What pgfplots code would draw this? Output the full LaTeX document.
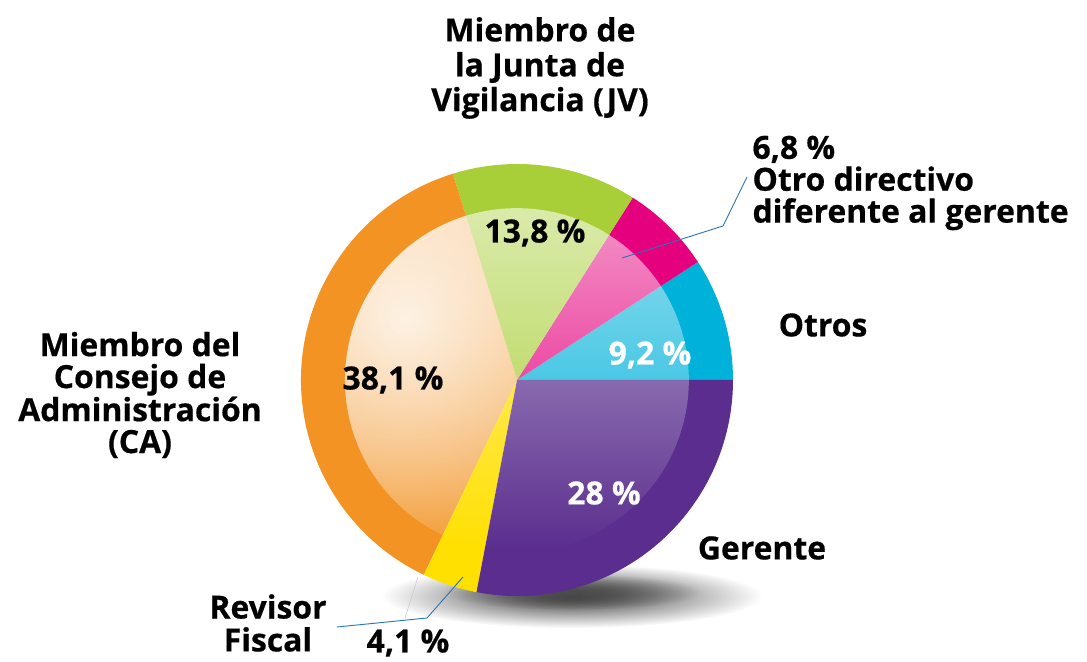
\documentclass[border=0pt]{standalone}
\usepackage{pgfplots}
\pgfplotsset{compat=1.18}
\usepackage{pgfplotstable}
\usetikzlibrary{fadings}
\usepackage{fontspec}
\setmainfont{Open Sans}[BoldFeatures={FakeBold=0.5}]

\definecolor{cyanO}{HTML}{00B2DA}
\definecolor{magO}{HTML}{E5007E}
\definecolor{grnO}{HTML}{A9CF38}
\definecolor{orgO}{HTML}{F39323}
\definecolor{yelO}{HTML}{FFE000}
\definecolor{purO}{HTML}{5A2D8E}
\definecolor{leader}{HTML}{2A74B8}

\tikzfading[name=vfade, top color=transparent!42, bottom color=transparent!100]
\tikzfading[name=radfade, inner color=transparent!0, outer color=transparent!100]

% share of each group, counter-clockwise from 0 degrees
\pgfplotstableread{
value colour
9.2   cyanO
6.8   magO
13.8  grnO
38.1  orgO
4.1   yelO
28.0  purO
}\piedata

\begin{document}
\begin{tikzpicture}
\begin{axis}[
  name=ax,
  scale only axis,
  width=1087bp, height=662bp,
  xmin=0, xmax=1087, ymin=0, ymax=662,
  hide axis, clip=false,
]
\addplot[draw=none] coordinates {(0,0) (1087,662)};
\pgfplotsextra{%
  % soft shadow
  \fill[black!80, path fading=radfade]
    (axis cs:572,66) ellipse[x radius=190bp, y radius=32bp];
  \fill[black!70, path fading=radfade]
    (axis cs:572,70) ellipse[x radius=130bp, y radius=18bp];
  \def\startA{0}%
  \pgfplotsforeachungrouped \i in {0,...,5}{%
    \pgfplotstablegetelem{\i}{value}\of\piedata \let\v\pgfplotsretval
    \pgfplotstablegetelem{\i}{colour}\of\piedata \let\co\pgfplotsretval
    \pgfmathsetmacro\endA{\startA+3.6*\v}%
    \fill[\co] (axis cs:517,282) -- ++(\startA:216bp)
       arc[start angle=\startA, end angle=\endA, radius=216bp] -- cycle;
    \ifnum\i=3
      \begin{scope}
        \clip (axis cs:517,282) -- ++(\startA:172bp)
          arc[start angle=\startA, end angle=\endA, radius=172bp] -- cycle;
        \fill[white, opacity=0.8, path fading=radfade]
          (axis cs:405,342) circle[radius=250bp];
      \end{scope}
    \fi
    \global\let\startA\endA
  }%
  % glossy inner disc
  \fill[white, path fading=vfade] (axis cs:517,282) circle[radius=172bp];
  % leader lines
  \draw[leader, line width=0.9bp] (axis cs:622,404) -- (axis cs:723,436) -- (axis cs:747,485);
  \draw[leader, line width=0.9bp] (axis cs:463,85) -- (axis cs:427,44) -- (axis cs:337,35);
  \draw[white!80!black, line width=0.6bp] (axis cs:418,85) -- (axis cs:405,44);
}
% category labels
\node[align=center, font=\fontsize{32}{35}\selectfont\bfseries] at (axis cs:540,594)
  {Miembro de\\la Junta de\\Vigilancia (JV)};
\node[align=left, anchor=west, font=\fontsize{32}{32}\selectfont\bfseries] at (axis cs:749,479)
  {6,8 \%\\Otro directivo\\diferente al gerente};
\node[font=\fontsize{32}{32}\selectfont\bfseries] at (axis cs:823,337) {Otros};
\node[align=center, font=\fontsize{32}{32}\selectfont\bfseries] at (axis cs:140,267)
  {Miembro del\\Consejo de\\Administración\\(CA)};
\node[font=\fontsize{32}{32}\selectfont\bfseries] at (axis cs:762,114) {Gerente};
\node[align=center, font=\fontsize{32}{33}\selectfont\bfseries] at (axis cs:268,39)
  {Revisor\\Fiscal};
\node[font=\fontsize{32}{32}\selectfont\bfseries] at (axis cs:408,19) {4,1 \%};
% values inside slices
\node[font=\fontsize{32}{32}\selectfont\bfseries] at (axis cs:535,429) {13,8 \%};
\node[font=\fontsize{32}{32}\selectfont\bfseries] at (axis cs:393,282) {38,1 \%};
\node[white, font=\fontsize{32}{32}\selectfont\bfseries] at (axis cs:650,307) {9,2 \%};
\node[white, font=\fontsize{32}{32}\selectfont\bfseries] at (axis cs:604,169) {28 \%};
\end{axis}
\pgfresetboundingbox
\useasboundingbox (ax.south west) rectangle (ax.north east);
\end{tikzpicture}
\end{document}
